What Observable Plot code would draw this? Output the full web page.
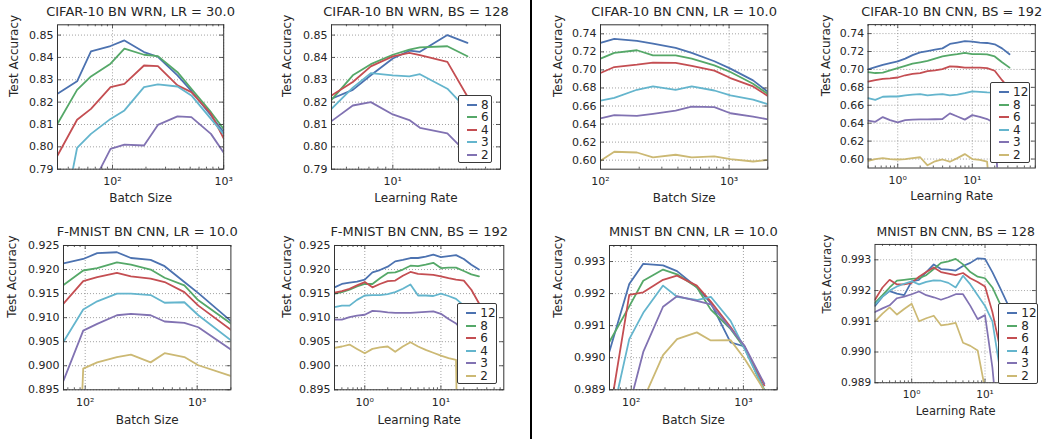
<!DOCTYPE html>
<html><head><meta charset="utf-8">
<script src="https://cdn.jsdelivr.net/npm/d3@7"></script>
<script src="https://cdn.jsdelivr.net/npm/@observablehq/plot@0.6"></script>
<style>
body{margin:0;background:#fff;}
#root{position:relative;width:1047px;height:439px;overflow:hidden;font-family:"DejaVu Sans",sans-serif;color:#262626;}
.panel{position:absolute;}
.legend{position:absolute;background:#fff;border:1px solid #3a3a3a;border-radius:2px;box-sizing:border-box;padding:3px 0;}
.lrow{display:flex;align-items:center;height:12.5px;font-size:12px;line-height:12px;}
.sw{display:inline-block;width:10px;height:2px;margin-left:8px;margin-right:4px;}
.sep{position:absolute;left:530px;top:0;width:1.6px;height:439px;background:#000;}
</style></head>
<body><div id="root"></div>
<script>
// ---------- x values ----------
const bsWrn = [32, 48, 64, 96, 128, 192, 256, 384, 512, 768, 1024];
const lrWrn = [4, 5.5, 7.2, 10, 12.8, 15, 22.6, 30.5];
const bsCifarCnn = [100, 128, 192, 256, 384, 512, 768, 1024, 1536, 2048];
const bsFmnist = [64, 96, 128, 192, 256, 384, 512, 768, 1024, 2048];
const bsMnist = [64, 96, 128, 192, 256, 384, 512, 768, 1024, 1536];
const lrGrid = [0.316, 0.4, 0.5, 0.63, 0.79, 1.0, 1.26, 1.58, 2.0, 2.51, 3.16, 3.98, 5.01, 6.31, 7.94, 10, 12.6, 15.8, 20, 25.1, 31.6];

// ---------- series labels ----------
const labelsWrn = ["8", "6", "4", "3", "2"];
const labelsCnn = ["12", "8", "6", "4", "3", "2"];

// ---------- CIFAR-10 BN WRN, LR = 30.0 (vs batch size) ----------
const wrnBs8 = [0.8237, 0.8293, 0.8427, 0.8451, 0.8476, 0.8424, 0.8403, 0.832, 0.825, 0.814, 0.8058];
const wrnBs6 = [0.8103, 0.8255, 0.8315, 0.8372, 0.8439, 0.8412, 0.8406, 0.8334, 0.826, 0.8155, 0.8073];
const wrnBs4 = [0.7961, 0.8121, 0.817, 0.8267, 0.8282, 0.8364, 0.8361, 0.8275, 0.8245, 0.8148, 0.8028];
const wrnBs3 = [0.755, 0.7995, 0.8058, 0.8125, 0.8163, 0.8267, 0.8279, 0.827, 0.823, 0.8125, 0.805];
const wrnBs2 = [0.770, 0.775, 0.782, 0.7991, 0.801, 0.8006, 0.8098, 0.8136, 0.8133, 0.8058, 0.7966];

// ---------- CIFAR-10 BN WRN, BS = 128 (vs learning rate) ----------
const wrnLr8 = [0.8215, 0.8255, 0.832, 0.8395, 0.843, 0.8425, 0.850, 0.8465];
const wrnLr6 = [0.821, 0.832, 0.837, 0.8412, 0.8435, 0.8445, 0.845, 0.8405];
const wrnLr4 = [0.823, 0.829, 0.836, 0.8405, 0.842, 0.841, 0.838, 0.8225];
const wrnLr3 = [0.817, 0.8265, 0.833, 0.832, 0.8315, 0.8325, 0.826, 0.8165];
const wrnLr2 = [0.8115, 0.8185, 0.820, 0.8145, 0.812, 0.8085, 0.806, 0.797];

// ---------- CIFAR-10 BN CNN, LR = 10.0 ----------
const cnnBs12 = [0.730, 0.7344, 0.7322, 0.7292, 0.7244, 0.7188, 0.7096, 0.7014, 0.6884, 0.6747];
const cnnBs8 = [0.7125, 0.7188, 0.7218, 0.7162, 0.7162, 0.7125, 0.7051, 0.6977, 0.6847, 0.6724];
const cnnBs6 = [0.6966, 0.7032, 0.7058, 0.7081, 0.7077, 0.7044, 0.6992, 0.691, 0.6817, 0.6702];
const cnnBs4 = [0.6661, 0.669, 0.678, 0.6817, 0.678, 0.6817, 0.6772, 0.6717, 0.6672, 0.6616];
const cnnBs3 = [0.6464, 0.6498, 0.649, 0.6513, 0.655, 0.6594, 0.6587, 0.652, 0.6483, 0.645];
const cnnBs2 = [0.5993, 0.6093, 0.6085, 0.603, 0.606, 0.603, 0.6041, 0.6011, 0.5985, 0.6004];

// ---------- CIFAR-10 BN CNN, BS = 192 ----------
const cnnLr12 = [0.700, 0.7025, 0.705, 0.707, 0.709, 0.712, 0.716, 0.719, 0.7205, 0.722, 0.7235, 0.7285, 0.730, 0.7315, 0.731, 0.730, 0.7295, 0.728, 0.7235, 0.717];
const cnnLr8 = [0.697, 0.696, 0.6965, 0.699, 0.7015, 0.704, 0.7065, 0.708, 0.7095, 0.712, 0.7145, 0.716, 0.717, 0.7185, 0.717, 0.717, 0.7168, 0.7145, 0.708, 0.702];
const cnnLr6 = [0.6865, 0.688, 0.6895, 0.690, 0.691, 0.6935, 0.695, 0.696, 0.698, 0.699, 0.7003, 0.7035, 0.703, 0.702, 0.702, 0.702, 0.7015, 0.6985, 0.688, 0.678];
const cnnLr4 = [0.668, 0.666, 0.6695, 0.6698, 0.6698, 0.671, 0.672, 0.6725, 0.671, 0.6718, 0.6725, 0.671, 0.672, 0.6735, 0.6755, 0.675, 0.6743, 0.674, 0.672, 0.668];
const cnnLr3 = [0.643, 0.6415, 0.6468, 0.6435, 0.641, 0.6435, 0.644, 0.6442, 0.6443, 0.6444, 0.6446, 0.651, 0.6475, 0.644, 0.649, 0.647, 0.6446, 0.640, 0.49];
const cnnLr2 = [0.598, 0.600, 0.601, 0.600, 0.5995, 0.600, 0.601, 0.602, 0.593, 0.5975, 0.5995, 0.597, 0.601, 0.6055, 0.600, 0.599, 0.597, 0.50];

// ---------- F-MNIST BN CNN, LR = 10.0 ----------
const fmBs12 = [0.9213, 0.9222, 0.9234, 0.9236, 0.9224, 0.922, 0.9207, 0.9174, 0.9151, 0.9091];
const fmBs8 = [0.9168, 0.9198, 0.9203, 0.9215, 0.921, 0.92, 0.9183, 0.9167, 0.9136, 0.9086];
const fmBs6 = [0.9129, 0.9176, 0.9184, 0.9193, 0.9186, 0.9181, 0.9174, 0.9153, 0.9125, 0.9073];
const fmBs4 = [0.905, 0.9117, 0.9134, 0.915, 0.915, 0.9147, 0.9131, 0.9132, 0.9105, 0.9051];
const fmBs3 = [0.8969, 0.9073, 0.9087, 0.9105, 0.9108, 0.9105, 0.9092, 0.9089, 0.908, 0.9032];
const fmBs2 = [0.80, 0.8994, 0.9007, 0.9018, 0.9023, 0.9007, 0.9026, 0.9018, 0.9001, 0.8978];

// ---------- F-MNIST BN CNN, BS = 192 ----------
const fmLr12 = [0.9163, 0.917, 0.9173, 0.9175, 0.9179, 0.9194, 0.9199, 0.9206, 0.9217, 0.922, 0.9224, 0.9224, 0.9227, 0.9231, 0.9226, 0.9228, 0.923, 0.9222, 0.921, 0.920];
const fmLr8 = [0.915, 0.9153, 0.9158, 0.9165, 0.917, 0.917, 0.9182, 0.9193, 0.9194, 0.920, 0.9208, 0.9207, 0.921, 0.9214, 0.9203, 0.9204, 0.9204, 0.9197, 0.919, 0.9186];
const fmLr6 = [0.9152, 0.9155, 0.916, 0.9167, 0.9174, 0.9163, 0.917, 0.9176, 0.9177, 0.9187, 0.9195, 0.9191, 0.919, 0.9189, 0.9186, 0.9182, 0.9179, 0.9177, 0.9158, 0.913];
const fmLr4 = [0.9122, 0.9125, 0.9125, 0.9137, 0.9146, 0.9147, 0.9147, 0.9149, 0.9153, 0.916, 0.9169, 0.9146, 0.9146, 0.9145, 0.915, 0.9145, 0.9139, 0.9125, 0.911, 0.909];
const fmLr3 = [0.9096, 0.9096, 0.9101, 0.9104, 0.9106, 0.9114, 0.9113, 0.9111, 0.911, 0.911, 0.911, 0.9111, 0.9112, 0.9113, 0.9108, 0.9097, 0.9088, 0.907, 0.905, 0.903];
const fmLr2 = [0.9037, 0.904, 0.9044, 0.9035, 0.9026, 0.9035, 0.9038, 0.904, 0.9029, 0.904, 0.9049, 0.904, 0.9033, 0.9027, 0.9021, 0.9016, 0.9012, 0.80];

// ---------- MNIST BN CNN, LR = 10.0 ----------
const mnBs12 = [0.9902, 0.9923, 0.99293, 0.99288, 0.9927, 0.9922, 0.9917, 0.99048, 0.99035, 0.98896];
const mnBs8 = [0.9905, 0.9916, 0.9924, 0.99275, 0.9926, 0.9922, 0.9915, 0.9909, 0.9903, 0.9890];
const mnBs6 = [0.9882, 0.99196, 0.99204, 0.99243, 0.99256, 0.99225, 0.99175, 0.99096, 0.99034, 0.98914];
const mnBs4 = [0.9878, 0.99058, 0.9914, 0.99225, 0.9919, 0.9918, 0.9919, 0.99115, 0.99028, 0.98897];
const mnBs3 = [0.9870, 0.98849, 0.99018, 0.99159, 0.99192, 0.99177, 0.99166, 0.99091, 0.99037, 0.98919];
const mnBs2 = [0.9865, 0.9875, 0.98869, 0.99008, 0.99058, 0.99079, 0.99054, 0.99055, 0.98997, 0.98898];

// ---------- MNIST BN CNN, BS = 128 ----------
const mnLr12 = [0.9915, 0.9918, 0.99198, 0.9919, 0.99185, 0.9923, 0.99235, 0.9926, 0.99285, 0.9927, 0.99268, 0.99265, 0.9928, 0.9929, 0.99305, 0.99303, 0.9926, 0.99212, 0.9916, 0.9905, 0.988];
const mnLr8 = [0.9916, 0.99185, 0.9921, 0.99232, 0.99235, 0.99238, 0.9924, 0.9925, 0.9927, 0.9929, 0.99295, 0.99303, 0.99285, 0.9926, 0.99245, 0.9924, 0.9921, 0.9916, 0.9908, 0.9896, 0.9887];
const mnLr6 = [0.9917, 0.9921, 0.99235, 0.9922, 0.9922, 0.99225, 0.99245, 0.9926, 0.99275, 0.9926, 0.99255, 0.9925, 0.99257, 0.9924, 0.99228, 0.99213, 0.9913, 0.9902, 0.9888];
const mnLr4 = [0.99155, 0.9918, 0.992, 0.99213, 0.99222, 0.9923, 0.9922, 0.99228, 0.99233, 0.99232, 0.99225, 0.9921, 0.99248, 0.9922, 0.99185, 0.9915, 0.9910, 0.9895, 0.988];
const mnLr3 = [0.9913, 0.99142, 0.99152, 0.99175, 0.9918, 0.99188, 0.99197, 0.99185, 0.99178, 0.9917, 0.99178, 0.99188, 0.99188, 0.9915, 0.99107, 0.9912, 0.9895, 0.987];
const mnLr2 = [0.991, 0.99125, 0.99145, 0.99122, 0.9914, 0.99157, 0.991, 0.9911, 0.99118, 0.99087, 0.9909, 0.99095, 0.9903, 0.9902, 0.99005, 0.9888];

// ---------- tick values ----------
const yTicksWrn = [0.79, 0.80, 0.81, 0.82, 0.83, 0.84, 0.85];
const yTicksCifar = [0.60, 0.62, 0.64, 0.66, 0.68, 0.70, 0.72, 0.74];
const yTicksFm = [0.895, 0.900, 0.905, 0.910, 0.915, 0.920, 0.925];
const yTicksMn = [0.989, 0.990, 0.991, 0.992, 0.993];
const xTicksBs = [100, 1000];
const xTicksLrWrn = [10];
const xTicksLr = [1, 10];

const PAL = ["#4C72B0", "#55A868", "#C44E52", "#64B5CD", "#8172B2", "#CCB974"];
const SUP = {"-1": "⁻¹", "0": "⁰", "1": "¹", "2": "²", "3": "³"};
const supFmt = d => "10" + SUP[String(Math.round(Math.log10(d)))];

const ROWS = [
  {svgTop: 0, top: 24.3, bottom: 168.7, xLabelDy: 32.5},
  {svgTop: 220, top: 245, bottom: 389.3, xLabelDy: 34}
];

const panels = [
  {row: 0, left: 56.5, right: 222.7, title: "CIFAR-10 BN WRN, LR = 30.0", xLabel: "Batch Size", yLabelDx: -43.5,
   xDomain: [32, 1000], yDomain: [0.79, 0.8546], x: bsWrn, xTicks: xTicksBs, yTicks: yTicksWrn, fmt: ".2f",
   labels: labelsWrn, ys: [wrnBs8, wrnBs6, wrnBs4, wrnBs3, wrnBs2], legend: false},
  {row: 0, left: 331, right: 500, title: "CIFAR-10 BN WRN, BS = 128", xLabel: "Learning Rate", yLabelDx: -44,
   xDomain: [4, 50], yDomain: [0.79, 0.8546], x: lrWrn, xTicks: xTicksLrWrn, yTicks: yTicksWrn, fmt: ".2f",
   labels: labelsWrn, ys: [wrnLr8, wrnLr6, wrnLr4, wrnLr3, wrnLr2], legend: true, legendInset: 8},
  {row: 0, left: 600, right: 767.3, title: "CIFAR-10 BN CNN, LR = 10.0", xLabel: "Batch Size", yLabelDx: -42,
   xDomain: [100, 2000], yDomain: [0.59, 0.75], x: bsCifarCnn, xTicks: xTicksBs, yTicks: yTicksCifar, fmt: ".2f",
   labels: labelsCnn, ys: [cnnBs12, cnnBs8, cnnBs6, cnnBs4, cnnBs3, cnnBs2], legend: false},
  {row: 0, left: 868.3, right: 1036.7, title: "CIFAR-10 BN CNN, BS = 192", xLabel: "Learning Rate", yLabelDx: -42,
   xDomain: [0.4, 70], yDomain: [0.59, 0.75], x: lrGrid.slice(1), xTicks: xTicksLr, yTicks: yTicksCifar, fmt: ".2f",
   labels: labelsCnn, ys: [cnnLr12, cnnLr8, cnnLr6, cnnLr4, cnnLr3, cnnLr2], legend: true, legendInset: 6.7},
  {row: 1, left: 63.3, right: 230.7, title: "F-MNIST BN CNN, LR = 10.0", xLabel: "Batch Size", yLabelDx: -51,
   xDomain: [64, 2000], yDomain: [0.895, 0.925], x: bsFmnist, xTicks: xTicksBs, yTicks: yTicksFm, fmt: ".3f",
   labels: labelsCnn, ys: [fmBs12, fmBs8, fmBs6, fmBs4, fmBs3, fmBs2], legend: false},
  {row: 1, left: 334, right: 503.3, title: "F-MNIST BN CNN, BS = 192", xLabel: "Learning Rate", yLabelDx: -47,
   xDomain: [0.4, 67], yDomain: [0.895, 0.925], x: lrGrid.slice(1), xTicks: xTicksLr, yTicks: yTicksFm, fmt: ".3f",
   labels: labelsCnn, ys: [fmLr12, fmLr8, fmLr6, fmLr4, fmLr3, fmLr2], legend: true, legendInset: 6},
  {row: 1, left: 609, right: 776.7, title: "MNIST BN CNN, LR = 10.0", xLabel: "Batch Size", yLabelDx: -51,
   xDomain: [64, 2000], yDomain: [0.989, 0.9935], x: bsMnist, xTicks: xTicksBs, yTicks: yTicksMn, fmt: ".3f",
   labels: labelsCnn, ys: [mnBs12, mnBs8, mnBs6, mnBs4, mnBs3, mnBs2], legend: false},
  {row: 1, left: 876.7, right: 1045, title: "MNIST BN CNN, BS = 128", xLabel: "Learning Rate", yLabelDx: -50,
   xDomain: [0.316, 50], yDomain: [0.989, 0.9935], x: lrGrid, xTicks: xTicksLr, yTicks: yTicksMn, fmt: ".3f",
   labels: labelsCnn, ys: [mnLr12, mnLr8, mnLr6, mnLr4, mnLr3, mnLr2], legend: true, legendInset: 6.7}
];

const root = document.getElementById("root");
const sep = document.createElement("div"); sep.className = "sep"; root.appendChild(sep);

function makePanel(p) {
  const row = ROWS[p.row];
  const fW = p.right - p.left, fH = row.bottom - row.top;
  const mL = 60, mR = 12, H = 212;
  const mT = row.top - row.svgTop, mB = H - (row.bottom - row.svgTop);
  const eps = 1e-6;
  const allTicks = d3.scaleLog().domain(p.xDomain).ticks();
  const minor = allTicks.filter(v => v >= p.xDomain[0] * (1 - eps) && v <= p.xDomain[1] * (1 + eps)
    && !p.xTicks.some(m => Math.abs(m - v) / m < eps));
  const grid = {stroke: "#8a8a8a", strokeWidth: 0.8, strokeDasharray: "1,2"};
  const tk = {stroke: "#333", strokeWidth: 0.8};
  const lines = p.ys.map((ys, i) => Plot.line(
    ys.map((v, j) => ({x: p.x[j], y: v})),
    {x: "x", y: "y", stroke: PAL[i], strokeWidth: 1.8, clip: true}));
  const svg = Plot.plot({
    width: fW + mL + mR, height: H,
    marginLeft: mL, marginRight: mR, marginTop: mT, marginBottom: mB,
    x: {type: "log", domain: p.xDomain},
    y: {domain: p.yDomain},
    style: {fontFamily: "DejaVu Sans", color: "#262626", background: "transparent", overflow: "visible"},
    marks: [
      Plot.ruleY(p.yTicks, {y: d => d, ...grid}),
      Plot.ruleX(p.xTicks, {x: d => d, ...grid}),
      ...lines,
      Plot.tickX(p.xTicks, {x: d => d, insetTop: fH - 4, ...tk}),
      Plot.tickX(p.xTicks, {x: d => d, insetBottom: fH - 4, ...tk}),
      Plot.tickX(minor, {x: d => d, insetTop: fH - 2, ...tk}),
      Plot.tickX(minor, {x: d => d, insetBottom: fH - 2, ...tk}),
      Plot.tickY(p.yTicks, {y: d => d, insetRight: fW - 4, ...tk}),
      Plot.tickY(p.yTicks, {y: d => d, insetLeft: fW - 4, ...tk}),
      Plot.frame({stroke: "#333", strokeWidth: 1}),
      Plot.axisX({ticks: p.xTicks, tickSize: 0, tickPadding: 8, tickFormat: supFmt, fontSize: 11, label: null}),
      Plot.axisY({ticks: p.yTicks, tickSize: 0, tickPadding: 4, tickFormat: d3.format(p.fmt), fontSize: 11, label: null}),
      Plot.text([p.title], {frameAnchor: "top", dy: -9, lineAnchor: "bottom", fontSize: 13}),
      Plot.text([p.xLabel], {frameAnchor: "bottom", dy: row.xLabelDy, lineAnchor: "bottom", fontSize: 12}),
      Plot.text(["Test Accuracy"], {frameAnchor: "left", dx: p.yLabelDx, rotate: -90, fontSize: 12})
    ]
  });
  const wrap = document.createElement("div");
  wrap.className = "panel";
  wrap.style.left = (p.left - mL) + "px";
  wrap.style.top = row.svgTop + "px";
  wrap.appendChild(svg);
  root.appendChild(wrap);

  if (p.legend) {
    const n = p.labels.length;
    const w = n === 6 ? 40 : 34;
    const h = n * 12.5 + 6;
    const lg = document.createElement("div");
    lg.className = "legend";
    lg.style.width = w + "px";
    lg.style.height = h + "px";
    lg.style.left = (p.right - p.legendInset - w) + "px";
    lg.style.top = (row.bottom - 5.5 - h) + "px";
    p.labels.forEach((lab, i) => {
      const r = document.createElement("div");
      r.className = "lrow";
      const s = document.createElement("span");
      s.className = "sw"; s.style.background = PAL[i];
      const t = document.createElement("span");
      t.textContent = lab;
      r.appendChild(s); r.appendChild(t);
      lg.appendChild(r);
    });
    root.appendChild(lg);
  }
}
panels.forEach(makePanel);
</script>
</body></html>
